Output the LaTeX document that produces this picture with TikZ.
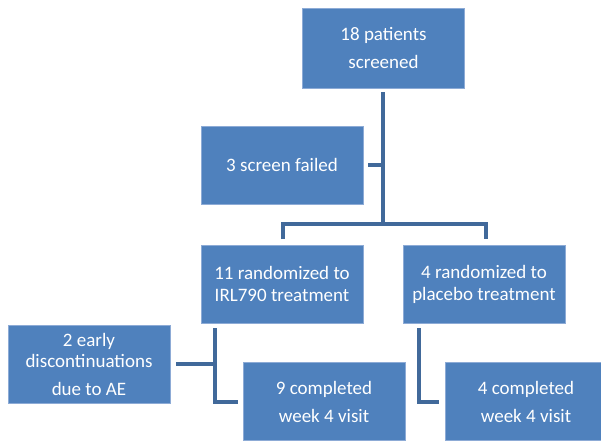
\documentclass[tikz,border=0pt]{standalone}
\usepackage{fontspec}
\setmainfont{Carlito}
\definecolor{boxblue}{HTML}{4F81BD}
\definecolor{boxedge}{HTML}{8DABD6}
\definecolor{linkblue}{HTML}{41699A}
\begin{document}
\begin{tikzpicture}[x=1pt,y=-1pt,
  box/.style={fill=boxblue,draw=boxedge,line width=0.7pt,text=white,align=center,
    minimum width=162pt,minimum height=78pt,inner sep=0pt,
    font=\fontsize{19}{28}\selectfont},
  link/.style={draw=linkblue,line width=4pt,line join=round}]
\useasboundingbox (0,0) rectangle (601,440);
\node[box,minimum height=80pt] (scr) at (383.5,48) {18 patients\\screened};
\node[box] (fail) at (282,165) {3 screen failed};
\node[box,font=\fontsize{19}{22}\selectfont] (irl) at (282,284) {11 randomized to\\IRL790 treatment};
\node[box,font=\fontsize{19}{22}\selectfont] (pla) at (484,284) {4 randomized to\\placebo treatment};
\node[box,font=\fontsize{19}{24}\selectfont] (disc) at (89,364) {2 early\\[-3pt]discontinuations\\[4pt]due to AE};
\node[box] (c9) at (324,401.5) {9 completed\\week 4 visit};
\node[box] (c4) at (526,401.5) {4 completed\\week 4 visit};
% top tree
\coordinate (t0) at (383,92);
\coordinate (tj) at (383,224);
\coordinate (fj) at (383,165);
\coordinate (fs) at (368,165);
\coordinate (la) at (283,239);
\coordinate (ra) at (486,239);
\draw[link] (t0) -- (tj);
\draw[link] (fs) -- (fj);
\draw[link,line join=miter] (la) |- (tj) -| (ra);
% left branch
\coordinate (l0) at (215,328);
\coordinate (lm) at (215,364);
\coordinate (ls) at (176,364);
\coordinate (l1) at (238,402);
\draw[link,line width=3.5pt,line join=miter] (l0) |- (l1);
\draw[link,line width=3.5pt] (ls) -- (lm);
% right branch
\coordinate (r0) at (419,328);
\coordinate (r1) at (439,402);
\draw[link,line width=3.5pt,line join=miter] (r0) |- (r1);
\end{tikzpicture}
\end{document}
